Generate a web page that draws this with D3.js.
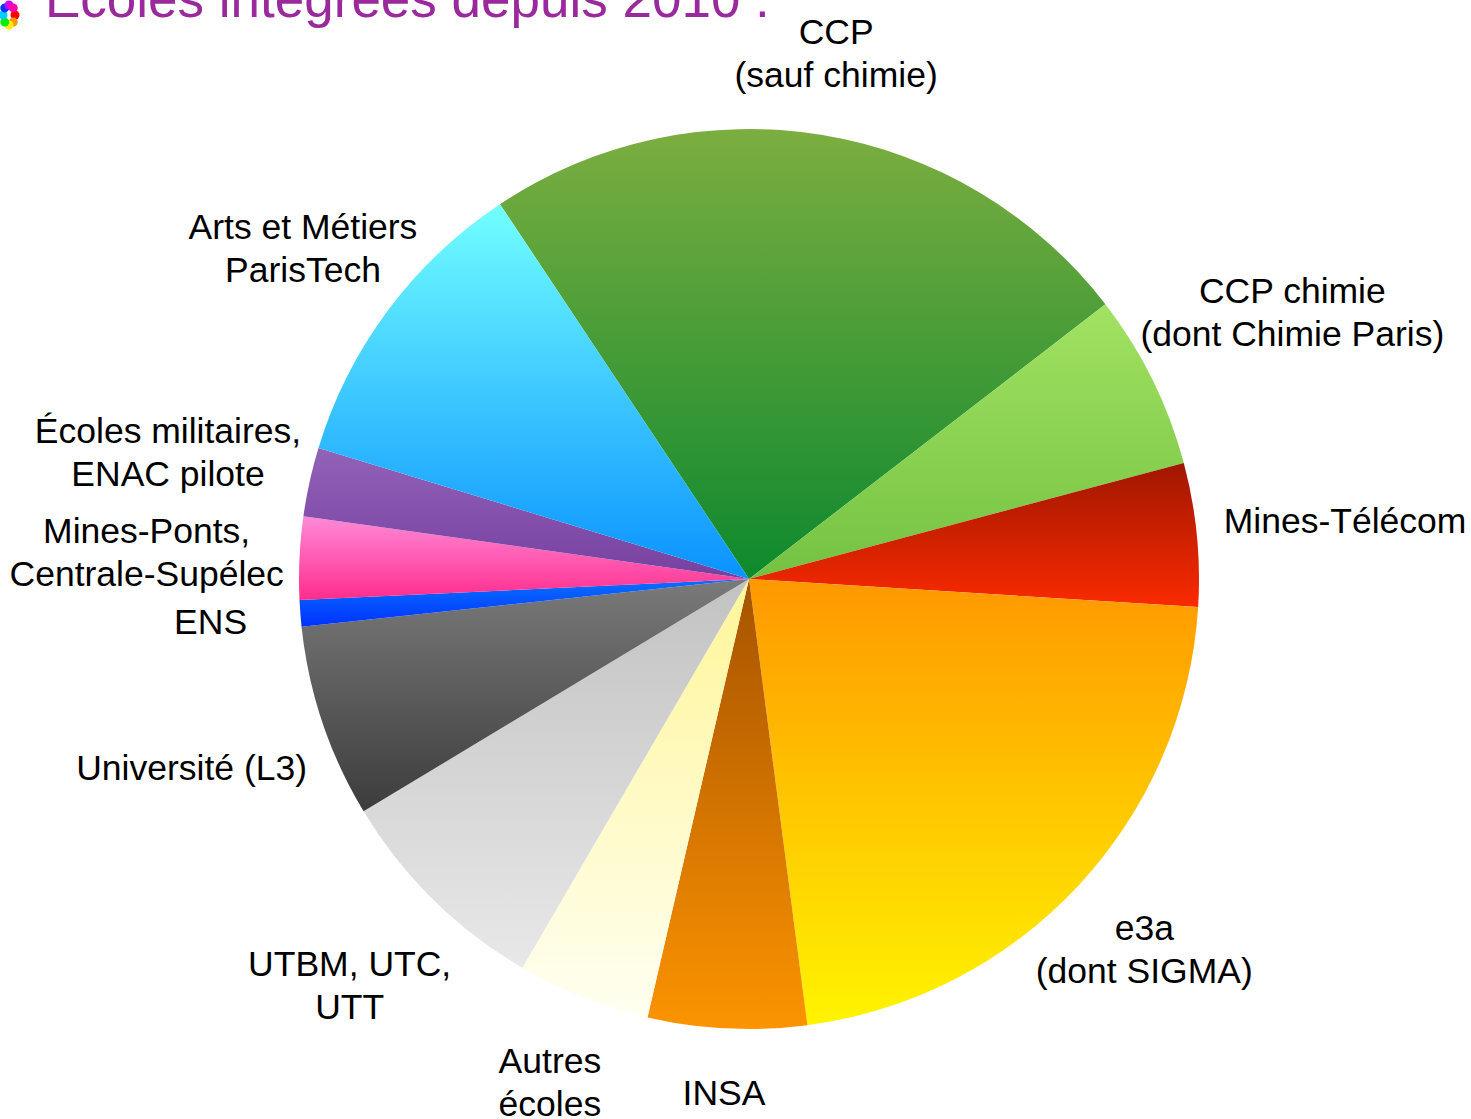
<!DOCTYPE html>
<html>
<head>
<meta charset="utf-8">
<script src="https://cdn.jsdelivr.net/npm/d3@7"></script>
<style>
  html, body { margin: 0; padding: 0; background: #ffffff; }
  svg { display: block; }
  text { font-family: "Liberation Sans", Arial, Helvetica, sans-serif; }
</style>
</head>
<body>
<svg id="chart" width="1471" height="1119"></svg>
<script>
// ---- Data (values in arbitrary units, proportional to slice size) ----
const categories = [
  "CCP\n(sauf chimie)",
  "CCP chimie\n(dont Chimie Paris)",
  "Mines-Télécom",
  "e3a\n(dont SIGMA)",
  "INSA",
  "Autres\nécoles",
  "UTBM, UTC,\nUTT",
  "Université (L3)",
  "ENS",
  "Mines-Ponts,\nCentrale-Supélec",
  "Écoles militaires,\nENAC pilote",
  "Arts et Métiers\nParisTech"
];
const values = [86.0, 22.7, 18.5, 79.0, 20.5, 17.2, 28.7, 25.0, 3.4, 10.7, 8.9, 39.5];
const gradTop    = ["#7cae40", "#a2e262", "#a01700", "#ff9800", "#a65200", "#fff598", "#c2c2c2", "#7a7a7a", "#0a70ff", "#ff8ad8", "#9262b8", "#72ffff"];
const gradBottom = ["#0e892e", "#74c242", "#fa2a00", "#fff400", "#fc9400", "#fffff2", "#e8e8e8", "#3c3c3c", "#0032ff", "#ff2c8c", "#7640a0", "#0a92ff"];
const labelDist  = [534, 606, 599, 541, 513, 540, 569, 588, 540, 603, 595, 556];
const title = "Écoles intégrées depuis 2010 :";

// ---- Layout ----
const cx = 749, cy = 579, R = 450;
const startDeg = -33.6;
const lineH = 43;

const svg = d3.select("#chart");
const defs = svg.append("defs");

categories.forEach((c, i) => {
  const g = defs.append("linearGradient")
    .attr("id", "grad" + i)
    .attr("x1", 0).attr("y1", 0).attr("x2", 0).attr("y2", 1);
  g.append("stop").attr("offset", "0%").attr("stop-color", gradTop[i]);
  g.append("stop").attr("offset", "100%").attr("stop-color", gradBottom[i]);
});

const start = startDeg * Math.PI / 180;
const pie = d3.pie().sort(null).value(d => d.v)
  .startAngle(start).endAngle(start + 2 * Math.PI);
const data = categories.map((c, i) => ({ c, v: values[i], i }));
const arcs = pie(data);
const arc = d3.arc().innerRadius(0).outerRadius(R);

const gPie = svg.append("g").attr("transform", `translate(${cx},${cy})`);
gPie.selectAll("path")
  .data(arcs)
  .enter().append("path")
  .attr("d", arc)
  .attr("fill", d => `url(#grad${d.data.i})`);

// ---- Labels ----
const gLab = svg.append("g").attr("transform", `translate(${cx},${cy})`);
arcs.forEach(d => {
  const a = (d.startAngle + d.endAngle) / 2;
  const r = labelDist[d.data.i];
  const x = Math.sin(a) * r;
  const y = -Math.cos(a) * r;
  const lines = d.data.c.split("\n");
  const t = gLab.append("text")
    .attr("text-anchor", "middle")
    .attr("font-size", "35.5px")
    .attr("fill", "#000");
  lines.forEach((ln, k) => {
    t.append("tspan")
      .attr("x", x)
      .attr("y", y + (k - (lines.length - 1) / 2) * lineH + 13.5)
      .text(ln);
  });
});

// ---- Title with bullet ----
const bullet = svg.append("g").attr("transform", "translate(9,15)");
const bColors = ["#ff0000", "#ff9900", "#ffee00", "#00ee00", "#00ccff", "#0033ff", "#cc00ff", "#ff00aa"];
bColors.forEach((col, k) => {
  const a = k / bColors.length * 2 * Math.PI;
  bullet.append("circle")
    .attr("cx", Math.cos(a) * 6).attr("cy", Math.sin(a) * 10)
    .attr("r", 4.5).attr("fill", col);
});

svg.append("text")
  .attr("x", 45).attr("y", 17)
  .attr("font-size", "53px")
  .attr("fill", "#9a2a9c")
  .text(title);
</script>
</body>
</html>
